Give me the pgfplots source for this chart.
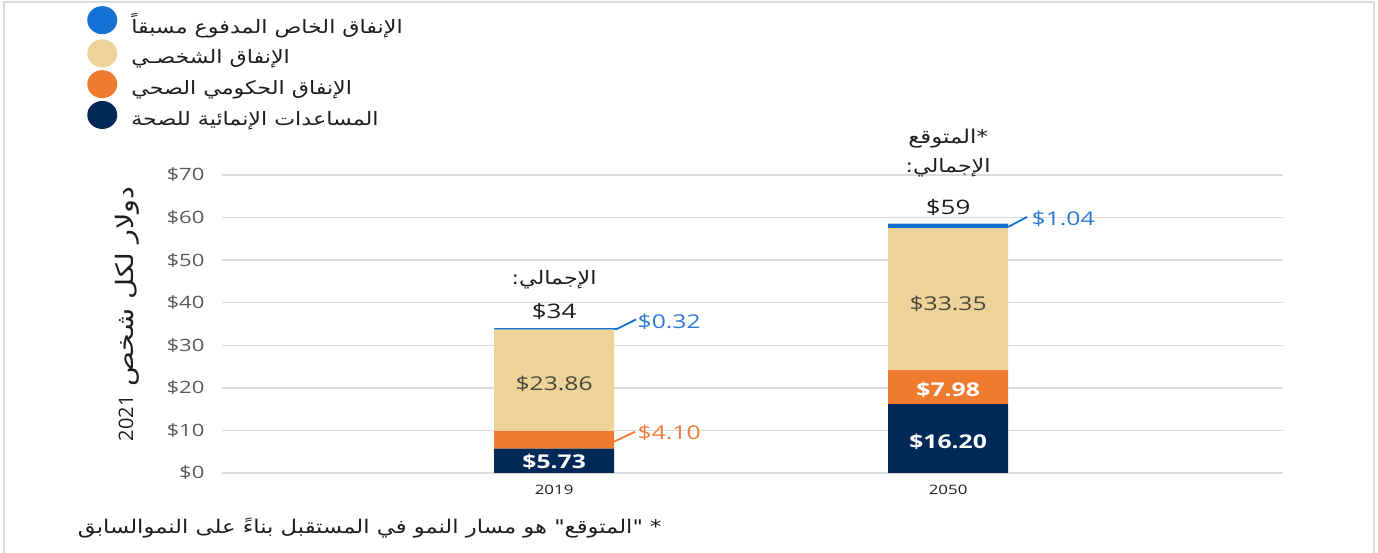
\documentclass[border=0pt]{standalone}
\usepackage{pgfplots}
\pgfplotsset{compat=1.18}
\usepackage{fontspec}
\setmainfont{Open Sans}
\newfontfamily\numfont[FakeStretch=1.3]{Open Sans}
\newfontfamily\arabicfont[Script=Arabic,FakeStretch=1.2]{DejaVu Sans}
\TeXXeTstate=1
\definecolor{navy}{HTML}{002957}
\definecolor{orangeb}{HTML}{EE7B30}
\definecolor{tanb}{HTML}{EDD399}
\definecolor{blueb}{HTML}{1470D2}
\definecolor{bluetxt}{HTML}{2E7BD6}
\definecolor{orangetxt}{HTML}{EE7A3A}
\definecolor{tantxt}{HTML}{4A4838}
\definecolor{tickgray}{HTML}{595959}
\definecolor{gridgray}{HTML}{DCDCDC}
\definecolor{framegray}{HTML}{DADADA}
\definecolor{txt}{HTML}{1E1E1E}
\pgfplotsset{legcirc/.style={legend image code/.code={\fill[##1,draw=none] (0pt,4pt) ellipse (15pt and 14pt);}}}
\begin{document}
\begin{tikzpicture}
\useasboundingbox (-222pt,-80pt) rectangle (1156pt,473pt);
\draw[framegray, line width=2pt] (-218pt,-80pt) -- (-218pt,470.5pt) -- (1152pt,470.5pt) -- (1152pt,-80pt);
\begin{axis}[
  at={(0,0)}, anchor=south west, scale only axis,
  width=1061pt, height=298pt,
  xmin=-0.843, xmax=1.850, ymin=0, ymax=70,
  ybar stacked, bar width=120pt,
  axis line style={draw=none}, major tick length=0pt,
  ymajorgrids, grid style={draw=gridgray, line width=1.3pt},
  ytick={0,10,...,70},
  yticklabels={\$0,\$10,\$20,\$30,\$40,\$50,\$60,\$70},
  yticklabel style={font=\numfont\fontsize{17}{19}\selectfont, text=tickgray, xshift=-14pt},
  xtick={0,1}, xticklabels={2019,2050},
  xticklabel style={font=\numfont\fontsize{13}{15}\selectfont, text=txt, yshift=-9pt},
  clip=false,
  reverse legend,
  legend style={at={(rel axis cs:-0.130,1.574)}, anchor=north west, draw=none, fill=none,
    font=\arabicfont\fontsize{18.5}{21}\selectfont, text=txt, row sep=2.8pt,
    /tikz/every even column/.append style={column sep=6pt}},
  legend cell align=left,
]
\addplot+[fill=navy, draw=none, legcirc] coordinates {(0,5.73) (1,16.20)};
\addlegendentry{\hspace{12pt}\beginR المساعدات الإنمائية للصحة\endR}
\addplot+[fill=orangeb, draw=none, legcirc] coordinates {(0,4.10) (1,7.98)};
\addlegendentry{\hspace{12pt}\beginR الإنفاق الحكومي الصحي\endR}
\addplot+[fill=tanb, draw=none, legcirc] coordinates {(0,23.86) (1,33.35)};
\addlegendentry{\hspace{12pt}\beginR الإنفاق الشخصـي\endR}
\addplot+[fill=blueb, draw=none, legcirc] coordinates {(0,0.32) (1,1.04)};
\addlegendentry{\hspace{12pt}\beginR الإنفاق الخاص المدفوع مسبقاً\endR}

\coordinate (lb1) at ([xshift=60pt]axis cs:0,33.85);
\coordinate (lo1) at ([xshift=60pt]axis cs:0,7.35);
\coordinate (lb2) at ([xshift=60pt]axis cs:1,57.8);
\coordinate (t032) at ([xshift=80pt]axis cs:0,35.5);
\coordinate (t410) at ([xshift=80pt]axis cs:0,9.4);
\coordinate (t104) at ([xshift=80pt]axis cs:1,59.6);
\coordinate (t2386) at (axis cs:0,20.9);
\coordinate (t573) at (axis cs:0,2.6);
\coordinate (t3335) at (axis cs:1,39.7);
\coordinate (t798) at (axis cs:1,19.5);
\coordinate (t1620) at (axis cs:1,7.3);
\coordinate (t34) at (axis cs:0,38.05);
\coordinate (t59) at (axis cs:1,62.25);
\coordinate (tot1) at (axis cs:0,45.3);
\coordinate (tot2) at (axis cs:1,71.6);
\coordinate (proj) at (axis cs:1,78.5);
\coordinate (ylab) at (rel axis cs:-0.0895,0.534);
\coordinate (foot) at (rel axis cs:0.4175,-0.1846);
\end{axis}

% leader lines
\draw[blueb, line width=1.8pt] (lb1) -- ++(3pt,0pt) -- ++(19pt,9.5pt);
\draw[orangeb, line width=1.8pt] (lo1) -- ++(21pt,10pt);
\draw[blueb, line width=1.8pt] (lb2) -- ++(19pt,10pt);

% labels
\node[font=\numfont\fontsize{19}{21}\selectfont, text=bluetxt, anchor=west] at (t032) {\$0.32};
\node[font=\numfont\fontsize{19}{21}\selectfont, text=orangetxt, anchor=west] at (t410) {\$4.10};
\node[font=\numfont\fontsize{19}{21}\selectfont, text=bluetxt, anchor=west] at (t104) {\$1.04};

\node[font=\numfont\fontsize{19}{21}\selectfont, text=tantxt] at (t2386) {\$23.86};
\node[font=\numfont\bfseries\fontsize{19}{21}\selectfont, text=white] at (t573) {\$5.73};
\node[font=\numfont\fontsize{19}{21}\selectfont, text=tantxt] at (t3335) {\$33.35};
\node[font=\numfont\bfseries\fontsize{19}{21}\selectfont, text=white] at (t798) {\$7.98};
\node[font=\numfont\bfseries\fontsize{19}{21}\selectfont, text=white] at (t1620) {\$16.20};

\node[font=\numfont\fontsize{20}{22}\selectfont, text=txt] at (t34) {\$34};
\node[font=\numfont\fontsize{20}{22}\selectfont, text=txt] at (t59) {\$59};
\node[font=\arabicfont\fontsize{18.5}{21}\selectfont, text=txt] at (tot1) {\beginR الإجمالي:\endR};
\node[font=\arabicfont\fontsize{18.5}{21}\selectfont, text=txt] at (tot2) {\beginR الإجمالي:\endR};
\node[font=\arabicfont\fontsize{19}{21}\selectfont, text=txt] at (proj) {\beginR *المتوقع\endR};

% y label
\node[rotate=90, font=\arabicfont\fontsize{24}{26}\selectfont, text=txt] at (ylab) {\beginR دولار لكل شخص \beginL{\rmfamily\fontsize{20}{22}\selectfont 2021}\endL\endR};

% footnote
\node[anchor=east, font=\arabicfont\fontsize{18.9}{21}\selectfont, text=txt] at (foot) {\beginR * "المتوقع" هو مسار النمو في المستقبل بناءً على النموالسابق\endR};
\end{tikzpicture}
\end{document}
